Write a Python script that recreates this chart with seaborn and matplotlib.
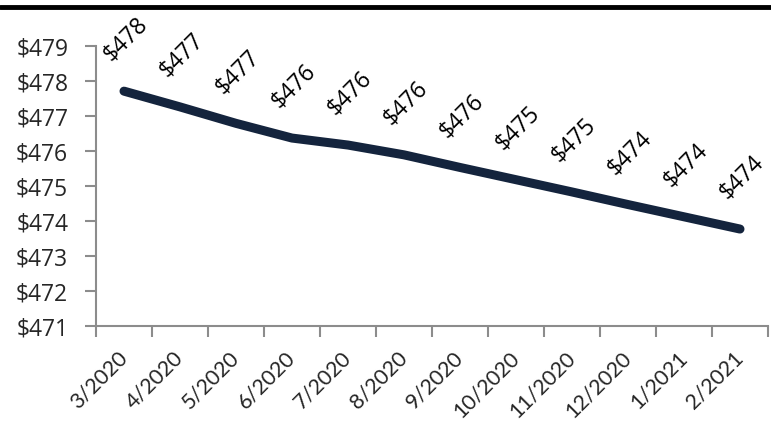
import matplotlib
matplotlib.use("Agg")
import matplotlib.pyplot as plt
import seaborn as sns
import pandas as pd
import numpy as np
from matplotlib.lines import Line2D

# ---- data ----
months = ["3/2020", "4/2020", "5/2020", "6/2020", "7/2020", "8/2020",
          "9/2020", "10/2020", "11/2020", "12/2020", "1/2021", "2/2021"]
values = [477.71, 477.26, 476.79, 476.37, 476.17, 475.89,
          475.53, 475.18, 474.83, 474.47, 474.12, 473.77]
yticks = [471, 472, 473, 474, 475, 476, 477, 478, 479]

sns.set_style("white")
plt.rcParams["font.family"] = ["Open Sans", "DejaVu Sans"]

W, H = 771, 423
fig = plt.figure(figsize=(W / 100, H / 100), dpi=100)
ax = fig.add_axes([96 / W, 1 - 326 / H, 672 / W, 280 / H])

df = pd.DataFrame({"month": months, "value": values})
df["pos"] = np.arange(len(df))

sns.lineplot(data=df, x="pos", y="value", ax=ax, color="#14243d",
             linewidth=6.5, solid_capstyle="round", solid_joinstyle="round")

# data labels
for i, v in zip(df["pos"], df["value"]):
    ax.annotate(f"${round(v)}", (i, v), xytext=(1, 37), textcoords="offset points",
                rotation=45, ha="center", va="center", fontsize=16.5,
                family=["Open Sans", "DejaVu Sans"], color="black",
                annotation_clip=False)

gray = "#8c8c8c"
ax.set_xlim(-0.5, len(months) - 0.5)
ax.set_ylim(yticks[0], yticks[-1])
ax.set_yticks(yticks)
ax.set_yticklabels([f"${t}" for t in yticks], fontsize=16.5,
                   family=["Open Sans", "DejaVu Sans"])
ax.set_xticks(df["pos"])
ax.set_xticklabels(months, rotation=45, ha="right", va="center",
                   rotation_mode="anchor", fontsize=15.5,
                   family=["Lato", "DejaVu Sans"])
ax.set_xticks(np.arange(-0.5, len(months), 1.0), minor=True)
ax.tick_params(axis="x", which="major", length=0, pad=21)
ax.tick_params(axis="x", which="minor", length=8, width=1.5, color=gray,
               direction="out", bottom=True)
ax.tick_params(axis="y", which="major", length=8, width=1.5, color=gray,
               direction="out", left=True, pad=12)
ax.set_xlabel("")
ax.set_ylabel("")
for s in ["top", "right"]:
    ax.spines[s].set_visible(False)
for s in ["left", "bottom"]:
    ax.spines[s].set_color(gray)
    ax.spines[s].set_linewidth(1.5)

# top rule
fig.add_artist(Line2D([0, 1], [1 - 7 / H, 1 - 7 / H], transform=fig.transFigure,
                      color="black", linewidth=3.5))

fig.savefig("out.png", dpi=100)
